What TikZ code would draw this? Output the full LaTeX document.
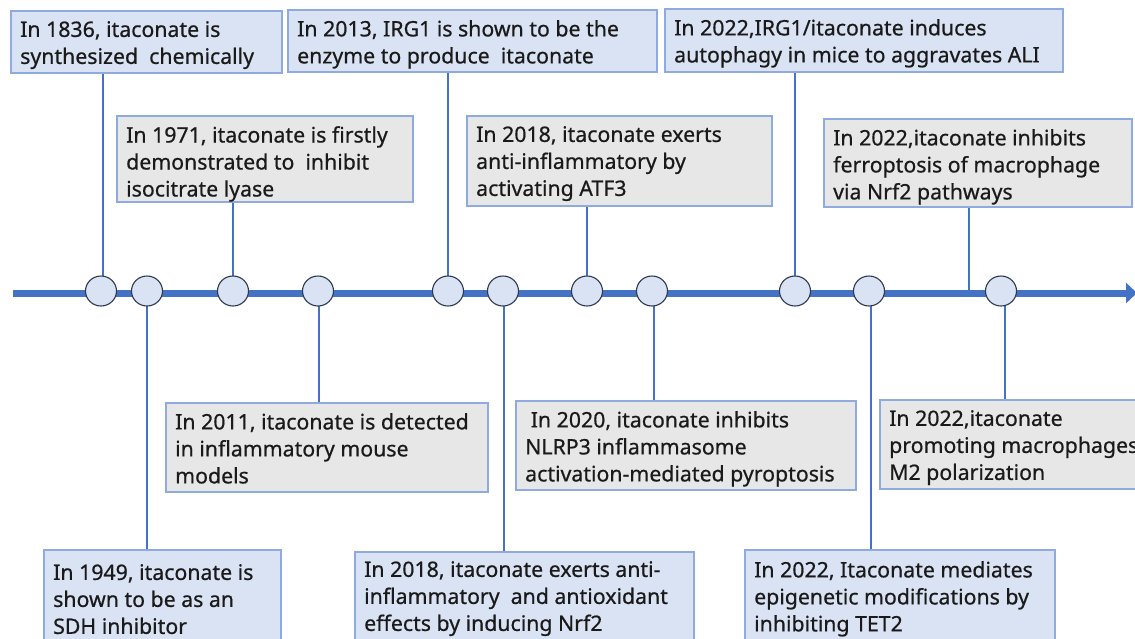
\documentclass[tikz,border=0pt]{standalone}
\usepackage{fontspec}
\setmainfont{Noto Sans}[RawFeature={embolden=0.6}]
\usetikzlibrary{shapes.geometric,arrows.meta}
\definecolor{tlblue}{HTML}{4472C4}
\definecolor{bxborder}{HTML}{8FAADC}
\definecolor{bxblue}{HTML}{DAE3F3}
\definecolor{bxgray}{HTML}{E7E7E7}
\definecolor{circborder}{HTML}{2E3A4F}
\definecolor{txt}{HTML}{1A1A1A}
\begin{document}
\begin{tikzpicture}[x=1pt,y=-1pt,
  boxbase/.style={draw=bxborder,line width=1.2pt,rectangle,inner sep=0pt},
  bluebox/.style={boxbase,fill=bxblue},
  graybox/.style={boxbase,fill=bxgray},
  boxtext/.style={anchor=north west,inner sep=0pt,align=left,font=\fontsize{21.3}{27}\selectfont,text=txt},
  ev/.style={ellipse,draw=circborder,fill=bxblue,line width=1.1pt,minimum width=31pt,minimum height=30pt,inner sep=0pt},
  conn/.style={draw=tlblue,line width=1.5pt}]
\useasboundingbox (0,0) rectangle (1135,638);
\clip (0,0) rectangle (1135,638);
% boxes: name, x1,y1,x2,y2, style, text, text top offset
\newcommand\tlbox[8]{%
  \node[#6,minimum width={#4-#2},minimum height={#5-#3}] (#1) at ({(#2+#4)/2},{(#3+#5)/2}) {};
  \node[boxtext] (#1t) at ({#2+9},{#3+#8}) {#7};}
\tlbox{B1}{11}{11}{282}{73}{bluebox}{In 1836, itaconate is\\synthesized\ \ chemically}{10}
\tlbox{B2}{288}{10}{657}{72}{bluebox}{In 2013, IRG1 is shown to be the\\enzyme to produce\ \ itaconate}{10}
\tlbox{B3}{665}{9}{1063}{72}{bluebox}{In 2022,IRG1/itaconate induces\\autophagy in mice to aggravates ALI}{10}
\tlbox{B4}{117}{116}{413}{202}{graybox}{In 1971, itaconate is firstly\\demonstrated to\ \ inhibit\\isocitrate lyase}{10}
\tlbox{B5}{467}{116}{772}{206}{graybox}{In 2018, itaconate exerts\\anti-inflammatory by\\activating ATF3}{10}
\tlbox{B6}{824}{119}{1132}{207}{graybox}{In 2022,itaconate inhibits\\ferroptosis of macrophage\\via Nrf2 pathways}{10}
\tlbox{B7}{166}{403}{488}{492}{graybox}{In 2011, itaconate is detected\\in inflammatory mouse\\models}{10}
\tlbox{B8}{516}{401}{856}{490}{graybox}{\ In 2020, itaconate inhibits\\NLRP3 inflammasome\\activation-mediated pyroptosis}{10}
\tlbox{B9}{880}{400}{1150}{489}{graybox}{In 2022,itaconate\\promoting macrophages\\M2 polarization}{10}
\tlbox{B10}{44}{550}{281}{650}{bluebox}{In 1949, itaconate is\\shown to be as an\\SDH inhibitor}{14}
\tlbox{B11}{355}{552}{694}{650}{bluebox}{In 2018, itaconate exerts anti-\\inflammatory\ \ and antioxidant\\effects by inducing Nrf2}{9}
\tlbox{B12}{745}{550}{1055}{650}{bluebox}{In 2022, Itaconate mediates\\epigenetic modifications by\\inhibiting TET2}{11}
% timeline
\coordinate (tls) at (13,293);
\coordinate (tle) at (1137,293);
\coordinate (j6) at (969,293);
\draw[tlblue,line width=7pt,-{Triangle[length=11pt,width=20pt]}] (tls) -- (tle);
% events
\foreach \n/\x in {c1/101,c2/147,c3/233,c4/318,c5/448,c6/503,c7/587,c8/652,c9/795,c10/869,c11/1001}
  \coordinate (\n p) at (\x,291);
% connectors
\draw[conn] ([xshift=2pt]c1p) -- ([xshift=2pt]c1p |- B1.south);
\draw[conn] (c2p) -- (c2p |- B10.north);
\draw[conn] (c3p) -- (c3p |- B4.south);
\draw[conn] ([xshift=1pt]c4p) -- ([xshift=1pt]c4p |- B7.north);
\draw[conn] (c5p) -- (c5p |- B2.south);
\draw[conn] ([xshift=1pt]c6p) -- ([xshift=1pt]c6p |- B11.north);
\draw[conn] (c7p) -- (c7p |- B5.south);
\draw[conn] ([xshift=2pt]c8p) -- ([xshift=2pt]c8p |- B8.north);
\draw[conn] (c9p) -- (c9p |- B3.south);
\draw[conn] ([xshift=2pt]c10p) -- ([xshift=2pt]c10p |- B12.north);
\draw[conn] ([xshift=4pt]c11p) -- ([xshift=4pt]c11p |- B9.north);
\draw[conn] (j6) -- (j6 |- B6.south);
% circles
\foreach \n in {c1,c2,c3,c4,c5,c6,c7,c8,c9,c10,c11}
  \node[ev] (\n) at (\n p) {};
\end{tikzpicture}
\end{document}
